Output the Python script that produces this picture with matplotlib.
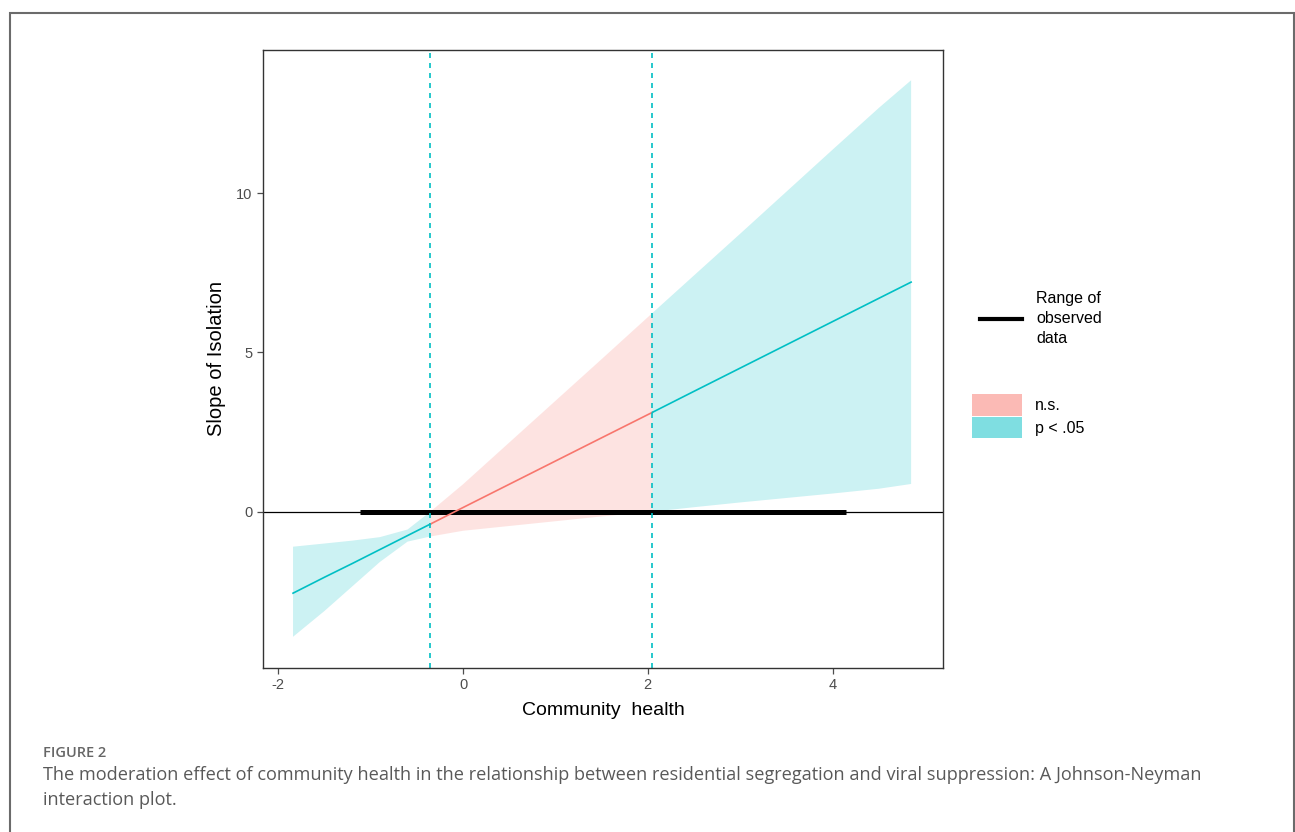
import numpy as np
import matplotlib
matplotlib.use('Agg')
import matplotlib.pyplot as plt
from matplotlib.lines import Line2D
from matplotlib.patches import Patch, Rectangle

# values
mod_x   = [-1.84, -1.5, -1.2, -0.9, -0.6, -0.354, 0.0, 0.5, 1.0, 1.5, 2.05, 2.5, 3.0, 3.5, 4.0, 4.5, 4.85]
slope   = [-2.56, -2.06, -1.63, -1.19, -0.75, -0.39, 0.13, 0.86, 1.59, 2.32, 3.12, 3.78, 4.51, 5.24, 5.97, 6.70, 7.21]
ci_low  = [-3.93, -3.12, -2.35, -1.58, -0.94, -0.78, -0.60, -0.45, -0.30, -0.15, 0.00, 0.14, 0.29, 0.43, 0.57, 0.72, 0.87]
ci_high = [-1.10, -1.00, -0.91, -0.80, -0.56, 0.00, 0.86, 2.17, 3.48, 4.79, 6.24, 7.42, 8.73, 10.05, 11.37, 12.68, 13.55]
jn_bounds = [-0.354, 2.05]
obs_range = [-1.115, 4.145]

xticks = [-2, 0, 2, 4]
yticks = [0, 5, 10]

red  = '#F8766D'
cyan = '#00BFC4'

x  = np.array(mod_x)
y  = np.array(slope)
lo = np.array(ci_low)
hi = np.array(ci_high)

plt.rcParams['font.family'] = ['Liberation Sans', 'DejaVu Sans']
plt.rcParams['axes.unicode_minus'] = False

fig = plt.figure(figsize=(12.95, 8.32), dpi=100)

# outer frame of the figure panel
fig.patches.append(Rectangle((9.5/1295, -0.01), (1294-9.5)/1295, 1.01-12.5/832,
                             transform=fig.transFigure, fill=False,
                             edgecolor='#6b6b6b', lw=1.5))

ax = fig.add_axes([263/1295, 164/832, 680/1295, 618/832])

## regions: significant below, n.s. in between, significant above
m1 = x <= jn_bounds[0]
m2 = (x >= jn_bounds[0]) & (x <= jn_bounds[1])
m3 = x >= jn_bounds[1]

ax.fill_between(x[m1], lo[m1], hi[m1], facecolor=cyan, alpha=0.2, lw=0)
ax.fill_between(x[m2], lo[m2], hi[m2], facecolor=red, alpha=0.2, lw=0)
ax.fill_between(x[m3], lo[m3], hi[m3], facecolor=cyan, alpha=0.2, lw=0)

ax.axhline(0, color='black', lw=0.9)
ax.plot(obs_range, [0, 0], color='black', lw=3.6, solid_capstyle='butt')

ax.plot(x[m1], y[m1], color=cyan, lw=1.2)
ax.plot(x[m2], y[m2], color=red, lw=1.2)
ax.plot(x[m3], y[m3], color=cyan, lw=1.2)

for b in jn_bounds:
    ax.axvline(b, color=cyan, lw=1.2, ls=(0, (3, 3)))

ax.set_xlim(-2.165, 5.195)
ax.set_ylim(-4.91, 14.5)
ax.set_xticks(xticks)
ax.set_yticks(yticks)
ax.tick_params(colors='#4d4d4d', labelsize=10.5, length=4, width=0.9)
for s in ax.spines.values():
    s.set_color('#333333')
    s.set_linewidth(1.0)

ax.set_xlabel('Community  health', fontsize=14, labelpad=7)
ax.set_ylabel('Slope of Isolation', fontsize=14.5, labelpad=7)

leg1 = fig.legend(handles=[Line2D([], [], color='black', lw=3)],
                  labels=['Range of\nobserved\ndata'],
                  loc='upper left', bbox_to_anchor=(966/1295, 1-277/832),
                  frameon=False, fontsize=11.5, handlelength=2.6, handletextpad=0.9)
leg1.get_texts()[0].set_linespacing(1.4)
leg2 = fig.legend(handles=[Patch(facecolor=red, alpha=0.5, lw=0),
                           Patch(facecolor=cyan, alpha=0.5, lw=0)],
                  labels=['n.s.', 'p < .05'],
                  loc='upper left', bbox_to_anchor=(958/1295, 1-380/832),
                  frameon=False, fontsize=11.5, handlelength=3.1, handleheight=1.7,
                  handletextpad=0.8, labelspacing=0.05)

fig.text(43/1295, 1-753/832, 'FIGURE 2', fontsize=10.5, color='#666666',
         family='Open Sans', weight='semibold', va='center')
fig.text(43/1295, 1-775/832,
         'The moderation effect of community health in the relationship between residential segregation and viral suppression: A Johnson-Neyman',
         fontsize=13.1, color='#595959', family='Open Sans', va='center')
fig.text(43/1295, 1-800/832, 'interaction plot.', fontsize=13.1, color='#595959',
         family='Open Sans', va='center')

plt.savefig('out.png', dpi=100)
